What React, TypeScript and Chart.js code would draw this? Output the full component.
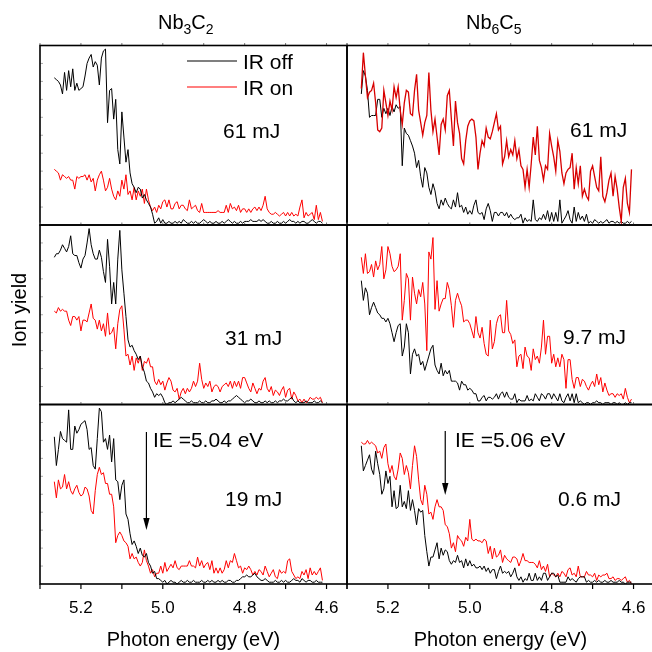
import { useEffect, useRef } from 'react';
import { Chart, registerables } from 'chart.js';

Chart.register(...registerables);

// Photon energy grid of the measurement (eV), 5.265 -> 4.605 in 0.005 eV steps
const ENERGY_START = 5.265;
const ENERGY_STEP = 0.005;
const ENERGY_COUNT = 133;
const ENERGY: number[] = Array.from({ length: ENERGY_COUNT }, (_, i) => +(ENERGY_START - ENERGY_STEP * i).toFixed(3));

// Axis ticks
const X_TICKS = [5.3, 5.2, 5.1, 5.0, 4.9, 4.8, 4.7, 4.6, 4.55];
const X_LABELS = ['5.2', '5.0', '4.8', '4.6'];
const Y_TICKS = [10, 20, 30, 40, 50, 60, 70, 80, 90];

// ---- Nb3C2, 61 mJ ----
const NB3C2_61_OFF = [
  82, 81, 80, 78, 73, 85, 75, 86, 77, 87, 75, 79, 75, 76, 77, 83, 90, 93, 95, 88,
  91, 89, 78, 93, 97, 98, 57, 75, 76, 59, 70, 42, 34, 63, 49, 35, 42, 29, 23, 21,
  18, 21, 20, 15, 17, 14, 12, 10, 6, 1, 2, 4, 1, 3, 1,
  1, 2, 1, 1, 2, 1, 2, 1, 3, 2, 1, 1, 2, 1, 2, 1, 1, 2, 3, 2,
  1, 2, 1, 1, 2, 1, 1, 2, 1, 2, 3, 2, 1, 2, 1, 1, 2, 1, 2, 2,
  2, 3, 2, 2, 2, 3, 2, 3, 2, 1, 1, 2, 1, 1, 2, 1, 1, 2, 1, 2,
  3, 2, 2, 1, 2, 1, 2, 2, 1, 1, 2, 3, 2, 1, 2, 2, 1,
];
const NB3C2_61_ON = [
  31, 30, 29, 25, 28, 27, 26, 27, 25, 25, 20, 27, 26, 27, 27, 28, 25, 28, 24, 26,
  19, 25, 28, 30, 25, 19, 21, 26, 20, 16, 14, 19, 16, 25, 20, 28, 17, 19, 14, 21,
  14, 19, 16, 20, 12, 20, 14, 10, 8, 10, 7, 11, 9, 13, 14, 10, 14, 9, 9, 12,
  13, 9, 11, 11, 9, 8, 14, 9, 10, 11, 8, 7, 12, 7, 7, 7, 7, 7, 7, 7,
  8, 7, 7, 7, 11, 7, 12, 9, 10, 8, 11, 7, 9, 9, 7, 9, 7, 9, 10, 8,
  10, 8, 11, 16, 9, 7, 6, 6, 7, 6, 5, 6, 7, 5, 7, 5, 7, 5, 6, 5,
  10, 14, 4, 7, 5, 6, 7, 3, 11, 3, 7, 2,
];

// ---- Nb3C2, 31 mJ ----
const NB3C2_31_OFF = [
  82, 84, 84, 86, 89, 87, 85, 88, 94, 84, 83, 83, 79, 76, 81, 83, 90, 98, 89, 84,
  81, 81, 86, 82, 74, 68, 92, 77, 56, 68, 56, 81, 97, 75, 62, 49, 36, 32, 33, 30,
  28, 25, 27, 21, 18, 13, 12, 9, 7, 4, 6, 5, 6, 4, 1, 0,
  1, 1, 2, 1, 2, 3, 4, 3, 2, 1, 1, 2, 1, 1, 1, 2, 1, 1, 2, 1,
  1, 2, 2, 3, 2, 1, 1, 2, 1, 2, 2, 3, 4, 5, 4, 3, 2, 1, 2, 2,
  3, 2, 1, 1, 2, 1, 1, 2, 1, 2, 1, 1, 2, 1, 2, 2, 3, 2, 2, 3,
  4, 2, 1, 2, 1, 1, 1, 2, 1, 1, 1, 2, 1, 1, 2, 1,
];
const NB3C2_31_ON = [
  52, 51, 54, 52, 53, 52, 52, 47, 44, 49, 49, 47, 49, 41, 47, 47, 46, 51, 56, 48,
  47, 42, 47, 41, 45, 38, 51, 39, 40, 43, 31, 45, 53, 55, 42, 27, 28, 22, 27, 19,
  26, 23, 27, 19, 24, 23, 26, 21, 21, 13, 11, 14, 11, 13, 8, 12, 15, 13, 8, 7,
  9, 3, 7, 9, 6, 9, 7, 9, 13, 10, 13, 23, 14, 9, 12, 10, 13, 7, 10, 11,
  10, 7, 10, 11, 12, 10, 13, 9, 13, 10, 13, 9, 15, 15, 12, 9, 7, 12, 9, 6,
  9, 8, 13, 15, 9, 7, 10, 5, 8, 7, 5, 8, 10, 4, 8, 9, 3, 7, 5, 2,
  3, 1, 3, 1, 2, 4, 3, 3, 4, 3, 4, 1,
];

// ---- Nb3C2, 19 mJ ----
const NB3C2_19_OFF = [
  82, 66, 75, 85, 81, 80, 79, 97, 75, 75, 88, 84, 86, 89, 90, 91, 86, 75, 76, 66,
  64, 81, 98, 96, 79, 81, 75, 83, 68, 81, 58, 57, 47, 55, 58, 39, 36, 28, 22, 24,
  21, 17, 20, 16, 15, 17, 12, 10, 6, 7, 3, 3, 2, 1, 2, 0,
  1, 2, 1, 1, 0, 1, 2, 1, 1, 2, 1, 1, 2, 1, 1, 1, 2, 1, 1, 2,
  1, 2, 1, 1, 2, 1, 2, 1, 1, 2, 2, 1, 1, 2, 2, 3, 4, 4, 5, 4,
  4, 5, 6, 4, 3, 2, 2, 3, 2, 1, 1, 1, 2, 1, 1, 2, 1, 2, 1, 1,
  2, 3, 2, 2, 1, 3, 2, 1, 2, 2, 1, 1, 2, 1, 1, 1,
];
const NB3C2_19_ON = [
  57, 48, 58, 53, 54, 61, 53, 57, 52, 50, 53, 55, 51, 49, 50, 54, 53, 49, 41, 39,
  52, 61, 65, 61, 62, 56, 56, 50, 50, 43, 23, 27, 29, 27, 24, 23, 21, 14, 17, 14,
  15, 12, 10, 12, 19, 13, 10, 6, 8, 4, 6, 6, 10, 6, 12, 7, 9, 11, 9, 13,
  9, 8, 10, 10, 10, 10, 13, 10, 10, 9, 15, 10, 13, 9, 11, 12, 8, 13, 6, 9,
  6, 9, 6, 8, 13, 9, 13, 12, 17, 13, 9, 10, 6, 9, 8, 10, 8, 5, 7, 5,
  8, 7, 5, 10, 7, 4, 6, 8, 4, 3, 8, 6, 7, 6, 13, 14, 7, 5, 3, 4,
  3, 7, 5, 8, 3, 9, 5, 7, 5, 7, 9, 2,
];

// ---- Nb6C5, 61 mJ ----
const NB6C5_61_OFF = [
  73, 86, 83, 75, 60, 61, 61, 61, 70, 70, 60, 65, 62, 65, 61, 66, 63, 67, 65, 66,
  33, 54, 51, 50, 47, 44, 40, 32, 36, 27, 21, 32, 29, 21, 17, 23, 19, 12, 9, 14,
  11, 15, 12, 10, 9, 14, 10, 18, 10, 11, 7, 10, 6, 8, 6, 11, 14, 7, 6, 7,
  3, 9, 12, 8, 2, 7, 7, 5, 7, 7, 5, 7, 4, 6, 4, 3, 4, 4, 6, 1,
  4, 2, 3, 2, 14, 3, 2, 4, 3, 6, 3, 8, 2, 7, 2, 7, 2, 14, 1, 3,
  5, 8, 3, 1, 10, 2, 7, 3, 5, 2, 6, 1,
  2, 1, 3, 2, 1, 2, 1, 2, 3, 1, 2, 2, 1, 2, 1, 2, 1, 1, 2, 1, 2,
];
const NB6C5_61_ON = [
  76, 96, 83, 71, 74, 75, 79, 68, 53, 52, 54, 75, 68, 61, 69, 64, 77, 71, 77, 64,
  56, 68, 75, 74, 62, 61, 75, 84, 64, 57, 50, 57, 61, 85, 64, 52, 59, 49, 39, 56,
  59, 53, 72, 75, 59, 44, 69, 57, 51, 37, 34, 47, 55, 58, 59, 58, 49, 31, 40, 47,
  44, 54, 49, 48, 52, 57, 62, 53, 55, 34, 38, 47, 38, 42, 39, 47, 37, 42, 33, 31,
  21, 31, 21, 34, 49, 39, 55, 36, 32, 25, 33, 31, 51, 44, 38, 30, 47, 41, 29, 23,
  29, 31, 32, 40, 20, 32, 23, 33, 16, 20, 16, 14, 30, 33, 27, 21, 19, 38, 16, 13,
  18, 25, 29, 16, 27, 20, 10, 2, 21, 26, 12, 7, 31,
];

// ---- Nb6C5, 9.7 mJ ----
const NB6C5_97_OFF = [
  69, 58, 65, 62, 50, 54, 57, 54, 51, 50, 48, 48, 46, 48, 45, 40, 35, 40, 44, 45,
  27, 32, 45, 40, 17, 28, 31, 27, 28, 22, 24, 19, 23, 27, 31, 33, 22, 19, 17, 23,
  16, 19, 17, 19, 13, 13, 13, 12, 8, 13, 11, 11, 8, 9, 8, 6, 6, 2, 2, 4,
  5, 2, 4, 4, 3, 4, 6, 3, 6, 7, 4, 7, 4, 3, 3, 6, 1, 3, 2, 2,
  2, 5, 2, 3, 2, 6, 4, 2, 6, 5, 3, 6, 6, 3, 6, 4, 2, 6, 2, 1,
  4, 6, 2, 6, 1, 6, 1, 2, 1, 0,
  1, 1, 0, 1, 1, 2, 1, 1, 0, 1, 1, 1, 0, 1, 1, 0, 1, 0, 0, 1, 0, 1, 1,
];
const NB6C5_97_ON = [
  82, 73, 84, 73, 74, 78, 71, 80, 75, 78, 88, 70, 75, 88, 84, 77, 74, 75, 77, 84,
  47, 58, 73, 70, 47, 71, 62, 56, 64, 60, 68, 56, 30, 85, 81, 93, 53, 69, 52, 56,
  59, 59, 68, 64, 55, 43, 58, 62, 58, 55, 46, 47, 47, 45, 41, 37, 49, 40, 37, 43,
  34, 28, 27, 47, 31, 35, 45, 49, 50, 40, 40, 58, 41, 39, 34, 36, 21, 27, 28, 20,
  32, 27, 26, 19, 31, 25, 27, 23, 32, 47, 28, 38, 38, 23, 28, 21, 26, 21, 28, 25,
  9, 25, 25, 14, 9, 15, 15, 10, 14, 13, 10, 8, 11, 13, 10, 17, 11, 15, 7, 12,
  8, 5, 6, 6, 4, 6, 5, 6, 3, 9, 4, 1, 3,
];

// ---- Nb6C5, 0.6 mJ ----
const NB6C5_06_OFF = [
  77, 63, 66, 69, 72, 64, 61, 74, 67, 61, 50, 53, 63, 56, 60, 43, 52, 42, 43, 55,
  43, 46, 42, 52, 41, 47, 41, 33, 42, 40, 41, 27, 18, 10, 15, 15, 19, 23, 14, 20,
  16, 19, 18, 13, 11, 13, 12, 16, 12, 13, 9, 14, 10, 13, 10, 11, 9, 9, 10, 8,
  10, 7, 9, 6, 8, 8, 3, 7, 10, 6, 7, 6, 7, 4, 6, 9, 4, 2, 4, 1,
  3, 2, 6, 2, 2, 6, 2, 4, 2, 6, 6, 2, 4, 6, 6, 4, 5, 1, 1, 1,
  1, 4, 2, 3, 2, 1, 3, 4, 4, 4, 1, 2, 1, 1, 2,
  1, 2, 1, 1, 2, 1, 1, 2, 1, 1, 1, 2, 1, 1, 0, 1, 1, 1,
];
const NB6C5_06_ON = [
  79, 78, 78, 80, 78, 79, 78, 77, 73, 74, 70, 76, 78, 67, 62, 66, 60, 58, 64, 73,
  70, 61, 66, 62, 53, 66, 77, 71, 58, 47, 44, 55, 50, 39, 40, 36, 43, 47, 43, 43,
  41, 33, 32, 28, 20, 23, 18, 27, 25, 24, 21, 26, 24, 36, 25, 24, 25, 24, 24, 23,
  25, 24, 17, 21, 14, 20, 15, 16, 19, 12, 16, 14, 13, 12, 15, 15, 14, 10, 13, 17,
  13, 13, 12, 12, 12, 11, 9, 13, 8, 10, 7, 11, 4, 6, 5, 4, 6, 4, 7, 6,
  4, 8, 9, 5, 6, 4, 10, 4, 4, 4, 7, 5, 5, 4, 6, 2, 5, 4, 5, 5,
  6, 3, 3, 4, 2, 3, 3, 2, 3, 4, 1, 2, 0,
];

const SERIES_NAMES = ['IR off', 'IR on'];
const COLUMN_TITLES = [
  [['Nb', false], ['3', true], ['C', false], ['2', true]],
  [['Nb', false], ['6', true], ['C', false], ['5', true]],
] as [string, boolean][][];
const X_TITLE = 'Photon energy (eV)';
const Y_TITLE = 'Ion yield';

type Panel = {
  row: number;
  col: number;
  off: number[];
  on: number[];
  energyLabel: string;
  labelPos: [number, number];
  legend?: boolean;
  ie?: { value: number; text: string; textPos: [number, number]; top: number; tip: number };
  redOnTop?: boolean;
  redColor?: string;
};

const PANELS: Panel[] = [
  { row: 0, col: 0, off: NB3C2_61_OFF, on: NB3C2_61_ON, energyLabel: '61 mJ', labelPos: [223, 138], legend: true },
  { row: 1, col: 0, off: NB3C2_31_OFF, on: NB3C2_31_ON, energyLabel: '31 mJ', labelPos: [225, 345] },
  {
    row: 2, col: 0, off: NB3C2_19_OFF, on: NB3C2_19_ON, energyLabel: '19 mJ', labelPos: [225, 506],
    ie: { value: 5.04, text: 'IE =5.04 eV', textPos: [153, 447], top: 432, tip: 530 },
  },
  { row: 0, col: 1, off: NB6C5_61_OFF, on: NB6C5_61_ON, energyLabel: '61 mJ', labelPos: [570, 137], redOnTop: true, redColor: '#d80000' },
  { row: 1, col: 1, off: NB6C5_97_OFF, on: NB6C5_97_ON, energyLabel: '9.7 mJ', labelPos: [563, 344] },
  {
    row: 2, col: 1, off: NB6C5_06_OFF, on: NB6C5_06_ON, energyLabel: '0.6 mJ', labelPos: [558, 506],
    ie: { value: 5.06, text: 'IE =5.06 eV', textPos: [455, 447], top: 431, tip: 495 },
  },
];

const CANVAS_W = 660;
const CANVAS_H = 652;
const COL_X: [number, number][] = [[40, 347], [347, 654]];
const ROW_Y: [number, number][] = [[45.5, 225], [225, 404.5], [404.5, 584]];
const TITLE_X = [158, 466];
const FONT = '"Liberation Sans", Arial, Helvetica, sans-serif';

function makeDecor(p: Panel) {
  return {
    id: 'panelDecor' + p.row + p.col,
    afterDatasetsDraw(chart: any) {
      const ctx: CanvasRenderingContext2D = chart.ctx;
      const { left, right, top, bottom } = chart.chartArea;
      const xs = chart.scales.x;
      const ys = chart.scales.y;
      ctx.save();
      // faint top ticks
      ctx.strokeStyle = '#777';
      ctx.lineWidth = 1;
      for (const t of X_TICKS) {
        const x = xs.getPixelForValue(t);
        ctx.beginPath();
        ctx.moveTo(x, top);
        ctx.lineTo(x, top - 2.5);
        ctx.stroke();
      }
      if (p.col === 0) {
        ctx.strokeStyle = '#aaa';
        for (const v of Y_TICKS) {
          const y = ys.getPixelForValue(v);
          ctx.beginPath();
          ctx.moveTo(left, y);
          ctx.lineTo(left + 3, y);
          ctx.stroke();
        }
      }
      // frame
      ctx.strokeStyle = '#000';
      ctx.lineWidth = 1.6;
      ctx.strokeRect(left, top, right - left, bottom - top);

      ctx.fillStyle = '#000';
      ctx.textBaseline = 'alphabetic';

      // bottom axis
      if (p.row === 2) {
        ctx.lineWidth = 1.2;
        for (const t of X_TICKS) {
          const x = xs.getPixelForValue(t);
          ctx.beginPath();
          ctx.moveTo(x, bottom);
          ctx.lineTo(x, bottom + 5);
          ctx.stroke();
        }
        ctx.font = `17px ${FONT}`;
        ctx.textAlign = 'center';
        for (const lab of X_LABELS) {
          ctx.fillText(lab, xs.getPixelForValue(parseFloat(lab)), 613);
        }
        ctx.font = `20px ${FONT}`;
        ctx.fillText(X_TITLE, (left + right) / 2, 646);
      }

      // column title
      if (p.row === 0) {
        let x = TITLE_X[p.col];
        ctx.textAlign = 'left';
        for (const [txt, sub] of COLUMN_TITLES[p.col]) {
          ctx.font = sub ? `14px ${FONT}` : `20px ${FONT}`;
          ctx.fillText(txt, x, sub ? 34 : 28.5);
          x += ctx.measureText(txt).width;
        }
      }

      // y title
      if (p.row === 1 && p.col === 0) {
        ctx.save();
        ctx.translate(25.5, 310);
        ctx.rotate(-Math.PI / 2);
        ctx.textAlign = 'center';
        ctx.font = `20px ${FONT}`;
        ctx.fillText(Y_TITLE, 0, 0);
        ctx.restore();
      }

      ctx.textAlign = 'left';
      ctx.font = `21px ${FONT}`;
      // legend
      if (p.legend) {
        const items: [string, string, number][] = [['#000', SERIES_NAMES[0], 61], ['#ff0000', SERIES_NAMES[1], 87]];
        for (const [c, name, y] of items) {
          ctx.strokeStyle = c;
          ctx.lineWidth = 1.2;
          ctx.beginPath();
          ctx.moveTo(187, y);
          ctx.lineTo(237, y);
          ctx.stroke();
          ctx.fillStyle = '#000';
          ctx.fillText(name, 243, y + 7.5);
        }
      }
      // energy label
      ctx.fillStyle = '#000';
      ctx.fillText(p.energyLabel, p.labelPos[0], p.labelPos[1]);

      // IE arrow
      if (p.ie) {
        ctx.fillText(p.ie.text, p.ie.textPos[0], p.ie.textPos[1]);
        const x = xs.getPixelForValue(p.ie.value);
        ctx.strokeStyle = '#000';
        ctx.lineWidth = 1.2;
        ctx.beginPath();
        ctx.moveTo(x, p.ie.top);
        ctx.lineTo(x, p.ie.tip - 10);
        ctx.stroke();
        ctx.beginPath();
        ctx.moveTo(x - 3.2, p.ie.tip - 12);
        ctx.lineTo(x + 3.2, p.ie.tip - 12);
        ctx.lineTo(x, p.ie.tip);
        ctx.closePath();
        ctx.fill();
      }
      ctx.restore();
    },
  };
}

function PanelChart({ p }: { p: Panel }) {
  const ref = useRef<HTMLCanvasElement | null>(null);
  useEffect(() => {
    if (!ref.current) return;
    const [l, r] = COL_X[p.col];
    const [t, b] = ROW_Y[p.row];
    const offData = p.off.map((v, i) => ({ x: ENERGY[i], y: v }));
    const onData = p.on.map((v, i) => ({ x: ENERGY[i], y: v }));
    const black = {
      label: SERIES_NAMES[0], data: offData, borderColor: '#000000', borderWidth: 1,
      pointRadius: 0, tension: 0, fill: false, order: p.redOnTop ? 2 : 1,
    };
    const red = {
      label: SERIES_NAMES[1], data: onData, borderColor: p.redColor || '#ff0000', borderWidth: p.redColor ? 1.3 : 1,
      pointRadius: 0, tension: 0, fill: false, order: p.redOnTop ? 1 : 2,
    };
    const chart = new Chart(ref.current, {
      type: 'line',
      data: { datasets: [black, red] as any },
      options: {
        animation: false,
        responsive: false,
        devicePixelRatio: 1,
        events: [],
        layout: { padding: { left: l, right: CANVAS_W - r, top: t, bottom: CANVAS_H - b } },
        plugins: { legend: { display: false }, tooltip: { enabled: false }, title: { display: false } },
        scales: {
          x: { type: 'linear', min: 4.55, max: 5.3, reverse: true, display: false },
          y: { type: 'linear', min: 0, max: 100, display: false },
        },
      },
      plugins: [makeDecor(p)],
    });
    return () => chart.destroy();
  }, [p]);
  return (
    <canvas
      ref={ref}
      width={CANVAS_W}
      height={CANVAS_H}
      style={{ position: 'absolute', left: 0, top: 0, width: CANVAS_W, height: CANVAS_H, display: 'block' }}
    />
  );
}

export default function App() {
  return (
    <div style={{ position: 'absolute', left: 0, top: 0, width: 652, height: 652, overflow: 'hidden', background: '#fff' }}>
      {PANELS.map((p, i) => (
        <PanelChart key={i} p={p} />
      ))}
    </div>
  );
}
